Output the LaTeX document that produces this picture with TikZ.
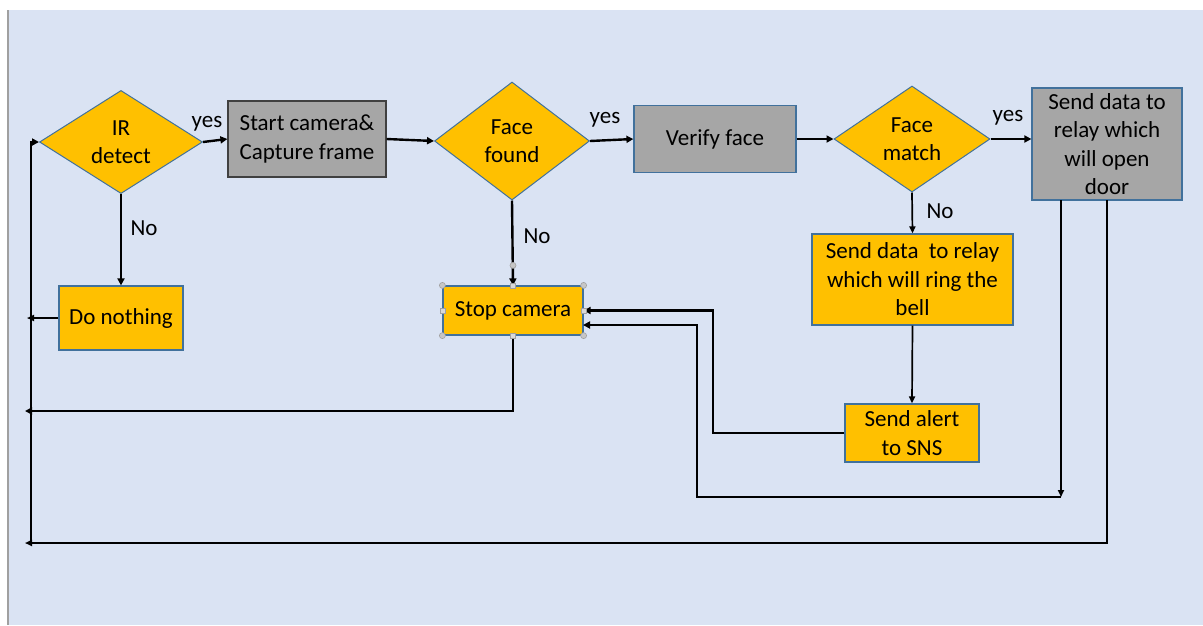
\documentclass[tikz,border=0pt]{standalone}
\usepackage{fontspec}
\setmainfont{Carlito}
\usetikzlibrary{shapes.geometric,arrows.meta,calc}
\definecolor{bgblue}{HTML}{DAE3F3}
\definecolor{ygold}{HTML}{FFC000}
\definecolor{bgray}{HTML}{A6A6A6}
\definecolor{edgeblue}{HTML}{41719C}
\definecolor{handle}{HTML}{A0A0A0}
\tikzset{
  txt/.style={font=\fontsize{23pt}{28.5pt}\selectfont, align=center, text=black},
  dec/.style={txt, shape=diamond, fill=ygold, draw=edgeblue, line width=1pt, inner sep=0pt},
  ybox/.style={txt, rectangle, fill=ygold, draw=edgeblue, line width=1.2pt, inner sep=0pt},
  gbox/.style={txt, rectangle, fill=bgray, draw=edgeblue, line width=1.2pt, inner sep=0pt},
  conn/.style={line width=2.4pt, -{Triangle[length=7pt,width=7pt]}},
  thin/.style={line width=1.7pt, -{Triangle[length=7pt,width=6pt]}},
  lbl/.style={txt, inner sep=0pt},
  hc/.style={circle, fill=handle!60, draw=handle, line width=0.6pt, minimum size=6pt, inner sep=0pt},
  hs/.style={rectangle, fill=handle!40, draw=handle, line width=0.6pt, minimum size=5pt, inner sep=0pt}
}
\begin{document}
\begin{tikzpicture}[x=1pt,y=-1pt]
\useasboundingbox (0,0) rectangle (1203,625);
\fill[white] (0,0) rectangle (1203,625);
\fill[bgblue] (9,10) rectangle (1203,625);
\draw[handle, line width=2pt] (8,10) -- (8,625);

% nodes
\node[dec, minimum width=163pt, minimum height=100pt] (ir) at (121,142) {IR\\detect};
\node[gbox, draw=black!75, minimum width=158pt, minimum height=76pt] (start) at (307,139) {Start camera\&\\Capture frame};
\node[dec, minimum width=155pt, minimum height=118pt] (ff) at (512,141) {Face\\found};
\node[gbox, minimum width=162pt, minimum height=67pt] (vf) at (715,139) {Verify face};
\node[dec, minimum width=156pt, minimum height=106pt] (fm) at (912,139) {Face\\match};
\node[gbox, minimum width=150pt, minimum height=112pt] (door) at (1107,144) {Send data to\\relay which\\will open\\door};
\node[ybox, minimum width=124pt, minimum height=64pt] (dn) at (121,318) {Do nothing};
\node[ybox, minimum width=140pt, minimum height=49pt] (sc) at (513,310.5) {Stop camera};
\node[ybox, minimum width=201pt, minimum height=91pt] (bell) at (912.5,279.5) {Send data\ \ to relay\\which will ring the\\bell};
\node[ybox, minimum width=134pt, minimum height=58pt] (sns) at (912,433) {Send alert\\to SNS};

% labels
\node[lbl] (y1) at (207,124) {yes};
\node[lbl] (y2) at (605,120) {yes};
\node[lbl] (y3) at (1008,118) {yes};
\node[lbl] (n1) at (144,228) {No};
\node[lbl] (n2) at (537,236) {No};
\node[lbl] (n3) at (940,211) {No};

% coordinates
\coordinate (sw1) at (713,433);
\coordinate (dA) at (1061,200);
\coordinate (dB) at (1061,497);
\coordinate (dC) at (697,497);
\coordinate (dD) at (697,325);
\coordinate (scR2) at (583,325);
\coordinate (eA) at (1107,200);
\coordinate (eB) at (1107,543);
\coordinate (eC) at (25,543);
\coordinate (lB) at (31,543);
\coordinate (lT) at (31,142);
\coordinate (sB) at (513,411);
\coordinate (sL) at (25,411);
\coordinate (dnL) at (27,318);

% connectors
\draw[conn] (ir.east) -- (start.west);
\draw[conn] (start.east) -- (ff.west);
\draw[conn] (ff.east) -- (vf.west);
\draw[conn] (vf.east) -- (fm.west);
\draw[conn] (fm.east) -- (fm.east -| door.west);
\draw[conn] (ir.south) -- (dn.north);
\draw[conn] (ff.south) -- (sc.north);
\draw[thin] (fm.south) -- (bell.north);
\draw[thin] (bell.south) -- (sns.north);
\draw[conn] (sns.west) -- (sw1) |- (sc.east);
\draw[thin] (dA) -- (dB);
\draw[conn] (dB) -- (dC) -- (dD) -- (scR2);
\draw[conn] (sc.south) -- (sB) -- (sL);
\draw[thin] (dn.west) -- (dnL);
\draw[thin] (eA) -- (eB) -- (eC);
\draw[conn] (lB) -- (lT) -- (ir.west);

% selection handles on Stop camera
\foreach \a in {north west,north east,south west,south east}
  \node[hc] at (sc.\a) {};
\foreach \a in {north,south,east,west}
  \node[hs] at (sc.\a) {};
\node[hc] at ($(sc.north)+(0,-20)$) {};
\end{tikzpicture}
\end{document}
